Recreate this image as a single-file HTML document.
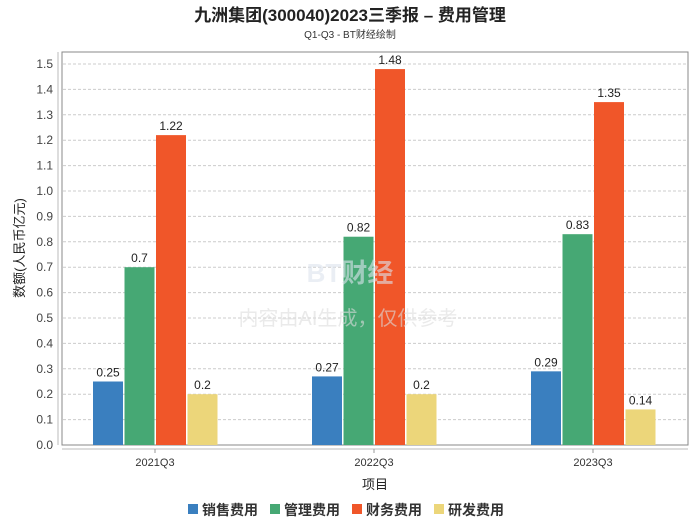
<!DOCTYPE html>
<html><head><meta charset="utf-8"><style>
body{margin:0;background:#fff;font-family:"Liberation Sans","Noto Sans CJK SC",sans-serif}
</style></head><body>
<svg width="700" height="524" xmlns="http://www.w3.org/2000/svg" font-family="Liberation Sans, Noto Sans CJK SC, sans-serif">
<text x="350" y="21" text-anchor="middle" font-size="17" font-weight="bold" fill="#222">九洲集团(300040)2023三季报 – 费用管理</text>
<text x="350" y="38" text-anchor="middle" font-size="10" fill="#333">Q1-Q3 - BT财经绘制</text>
<rect x="62" y="52" width="626" height="393" fill="#fff" stroke="#888"/>
<line x1="58" y1="52" x2="58" y2="445" stroke="#bbb"/>
<line x1="62" y1="449" x2="688" y2="449" stroke="#bbb"/>
<g id="grid"></g><g id="bars"></g><g id="labels"></g>
<text x="350" y="282" text-anchor="middle" font-size="26" font-weight="bold" fill="#dde4ee" opacity="0.6">BT财经</text>
<text x="348" y="325" text-anchor="middle" font-size="20" fill="#ddd" opacity="0.6">内容由AI生成，仅供参考</text>
<text transform="translate(24,248) rotate(-90)" text-anchor="middle" font-size="13" fill="#222">数额(人民币亿元)</text>
<text x="375" y="489" text-anchor="middle" font-size="13" fill="#222">项目</text>
<g id="legend"></g>
</svg>
<script>
const categories=["2021Q3","2022Q3","2023Q3"];
const seriesNames=["销售费用","管理费用","财务费用","研发费用"];
const sales=[0.25,0.27,0.29];
const admin=[0.7,0.82,0.83];
const finance=[1.22,1.48,1.35];
const rnd=[0.2,0.2,0.14];
const yTicks=[0,0.1,0.2,0.3,0.4,0.5,0.6,0.7,0.8,0.9,1.0,1.1,1.2,1.3,1.4,1.5];
const colors=["#3a7fbf","#46a874","#f05629","#ecd67a"];
const series=[sales,admin,finance,rnd];
const NS="http://www.w3.org/2000/svg";
function y(v){return 445-v*254;}
function xc(i){return 155+i*219;}
function mk(t,a,p){const e=document.createElementNS(NS,t);for(const k in a)e.setAttribute(k,a[k]);p.appendChild(e);return e;}
const grid=document.getElementById('grid');
yTicks.forEach(t=>{
 if(t>0){const l=mk('line',{x1:63,x2:687,y1:y(t),y2:y(t),stroke:'#ccc','stroke-dasharray':'3,2'},grid);
 
 }
 const tx=mk('text',{x:53,y:y(t)+4,'text-anchor':'end','font-size':12,fill:'#444'},grid);
 tx.textContent=t.toFixed(1);
 
 
});
const bars=document.getElementById('bars');
categories.forEach((c,i)=>{
 const tk=mk('line',{x1:xc(i),x2:xc(i),y1:449,y2:453,stroke:'#999'},bars);
 
 
 const tl=mk('text',{x:xc(i),y:466,'text-anchor':'middle','font-size':11,fill:'#333'},bars);
 tl.textContent=c;
 
 
 series.forEach((s,j)=>{
  const bx=xc(i)-62+j*31.5;
  const r=mk('rect',{x:bx,y:y(s[i]),width:30,height:445-y(s[i]),fill:colors[j]},bars);
  
  
  const v=mk('text',{x:bx+15,y:y(s[i])-5,'text-anchor':'middle','font-size':12,fill:'#222'},bars);
  v.textContent=String(s[i]);
  
  
 });
});
const lg=document.getElementById('legend');
let lx=188;
seriesNames.forEach((n,j)=>{
 const r=mk('rect',{x:lx,y:504,width:10,height:10,fill:colors[j]},lg);
 
 
 const t=mk('text',{x:lx+14,y:515,'font-size':14,'font-weight':'bold',fill:'#333'},lg);
 t.textContent=n;
 
 
 lx+=82;
});
</script>
</body></html>
